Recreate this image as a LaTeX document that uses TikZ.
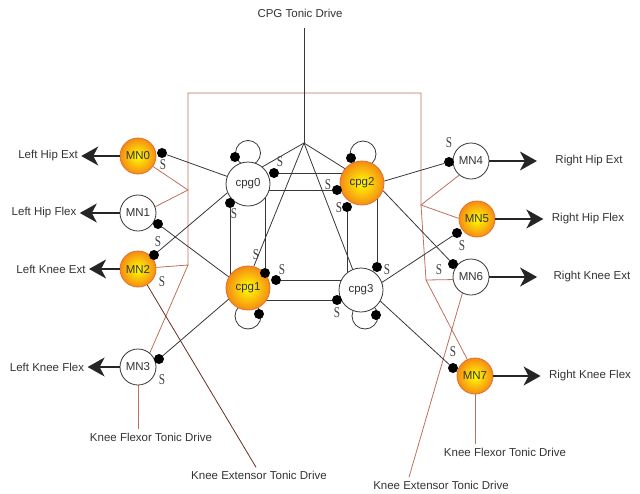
\documentclass[tikz,border=0pt]{standalone}
\usepackage{fontspec}
\setmainfont{Liberation Sans}
\newfontfamily\synfont[FakeStretch=0.75]{Liberation Serif}
\usetikzlibrary{calc}
\usetikzlibrary{backgrounds}
\usetikzlibrary{arrows.meta}

\definecolor{tonic}{RGB}{190,112,92}
\definecolor{tonicdark}{RGB}{105,45,35}
\definecolor{wirecol}{RGB}{55,55,55}
\definecolor{mnfill}{RGB}{245,140,20}
\definecolor{mnedge}{RGB}{225,110,45}

\begin{document}
\begin{tikzpicture}[x=1pt,y=-1pt,font=\fontsize{11.5}{13}\selectfont]
\tikzstyle{cold}=[draw=wirecol, fill=white, circle, inner sep=0pt, line width=.8pt, text=black!80]
\tikzstyle{hot}=[draw=mnedge, circle, inner sep=0pt, inner color=yellow, outer color=mnfill, line width=.8pt, text=black!80]
\tikzstyle{cpg}=[minimum size=44pt]
\tikzstyle{mn}=[minimum size=36pt]
\tikzstyle{syn}=[fill=black, circle, inner sep=0pt, minimum size=10pt]
\tikzstyle{lbl}=[text=black!80]
\tikzstyle{slbl}=[font=\fontsize{15}{15}\synfont, text=black!75, inner sep=0pt]
\tikzstyle{link}=[draw=wirecol, line width=.8pt]
\tikzstyle{outarrow}=[draw=black!85, line width=1.3pt, -{Stealth[length=17pt,width=19pt,inset=5pt]}]
\tikzstyle{drive}=[draw=tonic, line width=.8pt]

\useasboundingbox (0,0) rectangle (640,493);

% central pattern generator
\node (cpg0) at (248,184) [cold,cpg] {cpg0};
\node (cpg2) at (362,183) [hot,cpg] {cpg2};
\node (cpg1) at (248,288) [hot,cpg] {cpg1};
\node (cpg3) at (361,290) [cold,cpg] {cpg3};

% motor neurons
\node (MN0) at (138,156) [hot,mn] {MN0};
\node (MN1) at (138,213) [cold,mn] {MN1};
\node (MN2) at (138,269) [hot,mn] {MN2};
\node (MN3) at (138,367) [cold,mn] {MN3};
\node (MN4) at (471,161) [cold,mn] {MN4};
\node (MN5) at (477,219) [hot,mn] {MN5};
\node (MN6) at (471,277) [cold,mn] {MN6};
\node (MN7) at (475,376) [hot,mn] {MN7};

% outputs
\node (lhipext) at (48,156) [lbl] {Left Hip Ext};
\node (lhipflex) at (44,213) [lbl] {Left Hip Flex};
\node (lkneeext) at (51,269) [lbl] {Left Knee Ext};
\node (lkneeflex) at (47,367) [lbl] {Left Knee Flex};
\node (rhipext) at (589,161) [lbl] {Right Hip Ext};
\node (rhipflex) at (588,219) [lbl] {Right Hip Flex};
\node (rkneeext) at (592,277) [lbl] {Right Knee Ext};
\node (rkneeflex) at (590,376) [lbl] {Right Knee Flex};

% tonic drives
\node (cpgdrive) at (300,13) [lbl] {CPG Tonic Drive};
\node (lflexdrive) at (151,437) [lbl] {Knee Flexor Tonic Drive};
\node (lextdrive) at (259,475) [lbl] {Knee Extensor Tonic Drive};
\node (rflexdrive) at (505,452) [lbl] {Knee Flexor Tonic Drive};
\node (rextdrive) at (441,485) [lbl] {Knee Extensor Tonic Drive};

\coordinate (drivetop) at (304,28);
\coordinate (apex) at (304,143);
\coordinate (ltop) at (188,93);
\coordinate (rtop) at (421,93);
\coordinate (ljoin) at (188,190);
\coordinate (lbot) at (188,265);
\coordinate (rjoin) at (421,205);
\coordinate (rbot) at (426,280);

% synapses
\node (s0) at (162,153) [syn] {};
\node (s1) at (158,224) [syn] {};
\node (s2) at (154,255) [syn] {};
\node (s3) at (159,359) [syn] {};
\node (s4) at (449,162) [syn] {};
\node (s5) at (457,233) [syn] {};
\node (s6) at (453,264) [syn] {};
\node (s7) at (453,368) [syn] {};
\node (c0loop) at (235,157) [syn] {};
\node (c0r) at (274,173) [syn] {};
\node (c0b) at (230,203) [syn] {};
\node (c2loop) at (351,158) [syn] {};
\node (c2l) at (337,190) [syn] {};
\node (c2b) at (347,207) [syn] {};
\node (c1t) at (265,273) [syn] {};
\node (c1r) at (276,280) [syn] {};
\node (c1loop) at (259,314) [syn] {};
\node (c3l) at (337,300) [syn] {};
\node (c3t) at (377,267) [syn] {};
\node (c3loop) at (376,315) [syn] {};

\node (sa) at (280,162) [slbl] {S};
\node (sb) at (328,185) [slbl] {S};
\node (sc) at (234,214) [slbl] {S};
\node (sd) at (339,208) [slbl] {S};
\node (se) at (256,255) [slbl] {S};
\node (sf) at (282,270) [slbl] {S};
\node (sg) at (387,270) [slbl] {S};
\node (sh) at (337,313) [slbl] {S};
\node (si) at (163,165) [slbl] {S};
\node (sj) at (158,242) [slbl] {S};
\node (sk) at (162,282) [slbl] {S};
\node (sl) at (162,380) [slbl] {S};
\node (sm) at (449,143) [slbl] {S};
\node (sn) at (462,246) [slbl] {S};
\node (so) at (439,270) [slbl] {S};
\node (sp) at (453,352) [slbl] {S};

\begin{scope}[on background layer]
% tonic drive wiring
\draw[drive] (lbot) -- (ltop) -- (rtop) -- (rjoin) -- (rbot);
\draw[drive] (MN0.-35) -- (ljoin) -- (MN1.20);
\draw[drive] (MN2.5) -- (lbot) -- (MN3.50);
\draw[drive] (MN4.-130) -- (rjoin) -- (MN5.178);
\draw[drive] (MN6.188) -- (rbot) -- (MN7.115);
\draw[drive] (MN3.south) -- (MN3.south |- lflexdrive.north);
\draw[drive] (MN7.south) -- (MN7.south |- rflexdrive.north);
\draw[drive, draw=tonicdark] (MN2.-60) -- ([xshift=-3pt]lextdrive.north);
\draw[drive] (MN6.-118) -- ([xshift=-32pt]rextdrive.north);

\draw[link] (drivetop) -- (apex);
\draw[link] (apex) -- (cpg0.50);
\draw[link] (apex) -- (cpg2.140);
\draw[link] (apex) -- (cpg1.75);
\draw[link] (apex) -- (cpg3.112);

% cpg to cpg
\draw[link] (c0r) -- (cpg2.center |- c0r);
\draw[link] (cpg0.center |- c2l) -- (c2l);
\draw[link] (c0b) -- (c0b |- cpg1.center);
\draw[link] (c1t |- cpg0.center) -- (c1t);
\draw[link] (c2b) -- (c2b |- cpg3.center);
\draw[link] (c3t |- cpg2.center) -- (c3t);
\draw[link] (c1r) -- (cpg3.center |- c1r);
\draw[link] (cpg1.center |- c3l) -- (c3l);

\draw[link] ($(cpg0)+(0,-31)$) circle (12.5pt);
\draw[link] ($(cpg2)+(1,-29)$) circle (13pt);
\draw[link] ($(cpg1)+(0,28)$) circle (13pt);
\draw[link] ($(cpg3)+(4,26)$) circle (13pt);

% cpg to motor neurons
\draw[link] (s0) -- (cpg0.160);
\draw[link] (s2) -- (cpg0.203);
\draw[link] (s1) -- (cpg1.150);
\draw[link] (s3) -- (cpg1.210);
\draw[link] (cpg2.5) -- (s4);
\draw[link] (cpg2.-20) -- (s6);
\draw[link] (cpg3.20) -- (s5);
\draw[link] (cpg3.-30) -- (s7);
\end{scope}

\draw[outarrow] (MN0) -- (lhipext);
\draw[outarrow] (MN1) -- (lhipflex);
\draw[outarrow] (MN2) -- (lkneeext);
\draw[outarrow] (MN3) -- (lkneeflex);
\draw[outarrow] (MN4) -- ([xshift=-15pt]rhipext.west);
\draw[outarrow] (MN5) -- ([xshift=-5pt]rhipflex.west);
\draw[outarrow] (MN6) -- ([xshift=-13pt]rkneeext.west);
\draw[outarrow] (MN7) -- ([xshift=-5pt]rkneeflex.west);

\end{tikzpicture}
\end{document}
